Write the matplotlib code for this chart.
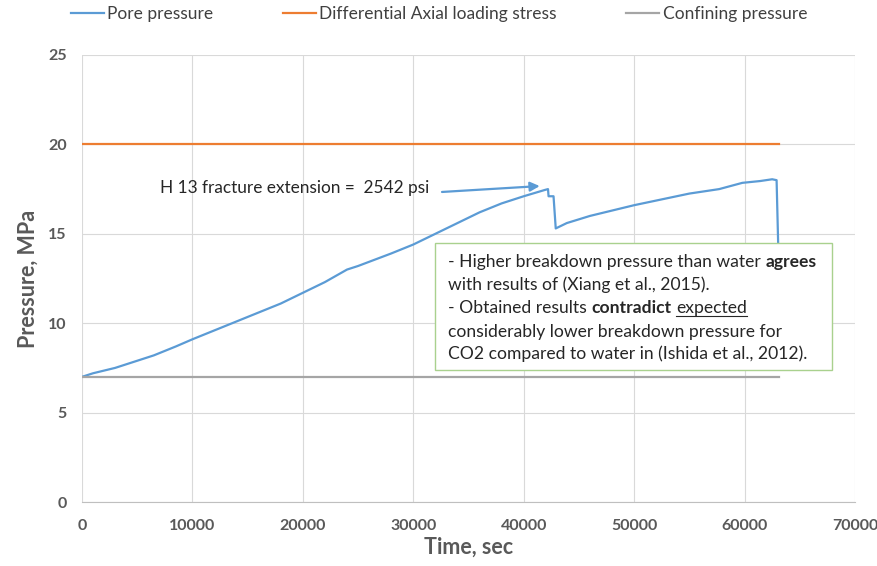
import matplotlib
matplotlib.use("Agg")
import matplotlib.pyplot as plt
from matplotlib.lines import Line2D
from matplotlib.patches import Rectangle

plt.rcParams['font.family'] = ['Lato', 'DejaVu Sans']

# ---- data ----
pore_t = [0, 1000, 3000, 4500, 6500, 8500, 10000, 12000, 14000, 16000, 18000,
          20000, 22000, 24000, 25000, 28000, 30000, 32000, 34000, 36000, 38000,
          40000, 41900, 42200, 42250, 42700, 42900, 43900, 46000, 50000, 55000,
          57700, 59800, 61400, 62500, 62900, 63300]
pore_p = [7.0, 7.2, 7.5, 7.8, 8.2, 8.7, 9.1, 9.6, 10.1, 10.6, 11.1,
          11.7, 12.3, 13.0, 13.2, 13.9, 14.4, 15.0, 15.6, 16.2, 16.7,
          17.1, 17.45, 17.5, 17.1, 17.1, 15.3, 15.6, 16.0, 16.6, 17.25,
          17.5, 17.85, 17.95, 18.05, 18.0, 8.0]
axial_t = [0, 63100]
axial_p = [20, 20]
conf_t = [0, 63100]
conf_p = [7, 7]

series_names = ['Pore pressure', 'Differential Axial loading stress', 'Confining pressure']
x_ticks = [0, 10000, 20000, 30000, 40000, 50000, 60000, 70000]
y_ticks = [0, 5, 10, 15, 20, 25]

BLUE = '#5B9BD5'
ORANGE = '#ED7D31'
GRAY = '#A5A5A5'
TXT = '#595959'

W, H = 878, 566
fig = plt.figure(figsize=(W / 100, H / 100), dpi=100)
ax = fig.add_axes([82 / W, 64 / H, (855 - 82) / W, (502 - 55) / H])

l1, = ax.plot(pore_t, pore_p, color=BLUE, lw=1.6, zorder=3)
l2, = ax.plot(axial_t, axial_p, color=ORANGE, lw=1.6, zorder=3)
l3, = ax.plot(conf_t, conf_p, color=GRAY, lw=1.6, zorder=3)

ax.set_xlim(0, 70000)
ax.set_ylim(0, 25)
ax.set_xticks(x_ticks)
ax.set_yticks(y_ticks)
ax.set_xticklabels([str(v) for v in x_ticks])
ax.set_yticklabels([str(v) for v in y_ticks])
ax.grid(True, color='#D9D9D9', lw=0.8)
ax.set_axisbelow(True)
for s in ['top', 'right', 'left']:
    ax.spines[s].set_visible(False)
ax.spines['bottom'].set_color('#BFBFBF')
ax.tick_params(length=0, labelcolor=TXT, labelsize=11.5)
ax.tick_params(axis='x', pad=12)
ax.tick_params(axis='y', pad=11)
for lab in ax.get_xticklabels() + ax.get_yticklabels():
    lab.set_fontweight('bold')

ax.set_xlabel('Time, sec', fontsize=15.5, fontweight='bold', color=TXT, labelpad=3)
ax.set_ylabel('Pressure, MPa', fontsize=15.5, fontweight='bold', color=TXT, labelpad=7)

fig.legend([l1, l2, l3], series_names, loc='center', bbox_to_anchor=(0.5, 1 - 14 / H),
           ncol=3, frameon=False, fontsize=12.5, handlelength=1.9, handletextpad=0.2,
           columnspacing=4.0, labelcolor='#404040')

# arrow annotation
ax.annotate('', xy=(41450, 17.67), xytext=(32600, 17.34),
            arrowprops=dict(arrowstyle='-|>', color=BLUE, lw=1.6, mutation_scale=14,
                            shrinkA=0, shrinkB=0), zorder=4)
ax.text(7060, 17.55, 'H 13 fracture extension =  2542 psi', fontsize=12.4, color='#262626',
        va='center', ha='left')

# text box
ax.add_patch(Rectangle((32000, 7.38), 35900, 14.49 - 7.38, facecolor='white',
                       edgecolor='#A9D18E', lw=1.0, zorder=5))

fig.canvas.draw()
r = fig.canvas.get_renderer()
FS = 12.6


def twidth(s, **kw):
    t = fig.text(0, 0, s, fontsize=FS, **kw)
    w = t.get_window_extent(r).width
    t.remove()
    return w


sp = twidth('a a') - twidth('aa')

lines = [
    [('- Higher breakdown pressure than water', False, False), ('agrees', True, False)],
    [('with results of (Xiang et al., 2015).', False, False)],
    [('- Obtained results', False, False), ('contradict', True, False), ('expected', False, True)],
    [('considerably lower breakdown pressure for', False, False)],
    [('CO2 compared to water in (Ishida et al., 2012).', False, False)],
]
baselines = [267, 290, 313, 337, 359]
for parts, yb in zip(lines, baselines):
    x = 448
    ypix = H - yb
    for i, (s, bold, ul) in enumerate(parts):
        if i > 0:
            x += sp
        t = fig.text(x / W, ypix / H, s, fontsize=FS, color='#262626',
                     fontweight='bold' if bold else 'normal', va='baseline', ha='left')
        e = t.get_window_extent(r)
        if ul:
            fig.add_artist(Line2D([e.x0 / W, e.x1 / W], [(ypix - 2.5) / H] * 2,
                                  transform=fig.transFigure, color='#262626', lw=0.8))
        x = e.x1

fig.savefig('out.png', dpi=100)
